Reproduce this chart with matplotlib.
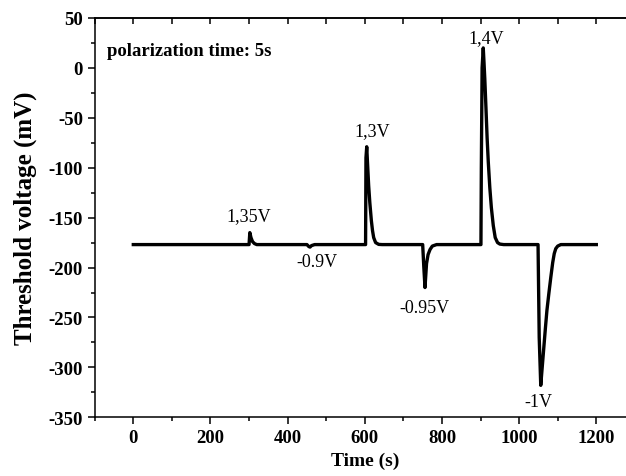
import matplotlib
matplotlib.use("Agg")
import matplotlib.pyplot as plt
from matplotlib.ticker import MultipleLocator, NullFormatter

plt.rcParams['font.family'] = ['Liberation Serif', 'DejaVu Serif']
plt.rcParams['axes.unicode_minus'] = False

# threshold voltage trace
time_s = [0, 300, 302, 305, 309, 314, 320,
          450, 455, 458, 462, 470,
          602, 603, 605, 607, 610, 613, 617, 620, 623, 628, 636, 645,
          750, 753, 756, 758, 760, 764, 769, 775, 786,
          901, 902, 904, 907, 909, 911, 914, 917, 920, 924, 928, 933, 938, 944, 950, 960,
          1049, 1052, 1056, 1060, 1064, 1068, 1072, 1077, 1082, 1087, 1091, 1095, 1100, 1108,
          1200]
volt_mv = [-177, -177, -165, -170, -174, -176, -177,
           -177, -179, -179.5, -178, -177,
           -177, -90, -79, -95, -118, -135, -153, -163, -170, -175, -176.8, -177,
           -177, -200, -220, -208, -196, -187, -182, -178.5, -177,
           -177, -100, 0, 20, 5, -11, -40, -70, -94, -120, -140, -158, -170, -175, -176.5, -177,
           -177, -270, -318, -299, -280, -261, -243, -226, -210, -195, -186, -181, -178.5, -177,
           -177]

# pulse labels
label_text = ['1,35V', '-0.9V', '1,3V', '-0.95V', '1,4V', '-1V']
label_t = [300, 476, 620, 754, 914, 1050]
label_v = [-148, -194, -63, -240, 30, -334]

fig = plt.figure(figsize=(6.26, 4.77), dpi=100)
ax = fig.add_axes([0.1513, 0.1231, 0.8629, 0.8371])

ax.plot(time_s, volt_mv, color='black', lw=2.4, solid_joinstyle='round')

for txt, t, v in zip(label_text, label_t, label_v):
    ax.text(t, v, txt, ha='center', va='center', fontsize=13)

ax.text(-69, 17, 'polarization time: 5s', ha='left', va='center',
        fontsize=13.5, fontweight='bold')

ax.set_xlim(-100, 1300)
ax.set_ylim(-350, 50)
ax.xaxis.set_major_locator(MultipleLocator(200))
ax.xaxis.set_minor_locator(MultipleLocator(100))
ax.yaxis.set_major_locator(MultipleLocator(50))
ax.yaxis.set_minor_locator(MultipleLocator(25))
ax.set_xticks(range(0, 1201, 200))

for sp in ax.spines.values():
    sp.set_linewidth(1.1)

ax.tick_params(which='both', direction='out', width=1.1, labelsize=13.5)
ax.tick_params(which='major', length=5)
ax.tick_params(which='minor', length=3)
for lab in ax.get_xticklabels() + ax.get_yticklabels():
    lab.set_fontweight('bold')

# inward ticks on the top spine, no labels
top = ax.secondary_xaxis('top')
top.xaxis.set_major_locator(MultipleLocator(100))
top.xaxis.set_major_formatter(NullFormatter())
top.tick_params(direction='in', length=4, width=1.1)
top.spines['top'].set_linewidth(1.1)

ax.set_xlabel('Time (s)', fontsize=14, fontweight='bold', labelpad=4)
ax.set_ylabel('Threshold voltage (mV)', fontsize=18, fontweight='bold', labelpad=8)

fig.savefig('out.png', dpi=100)
